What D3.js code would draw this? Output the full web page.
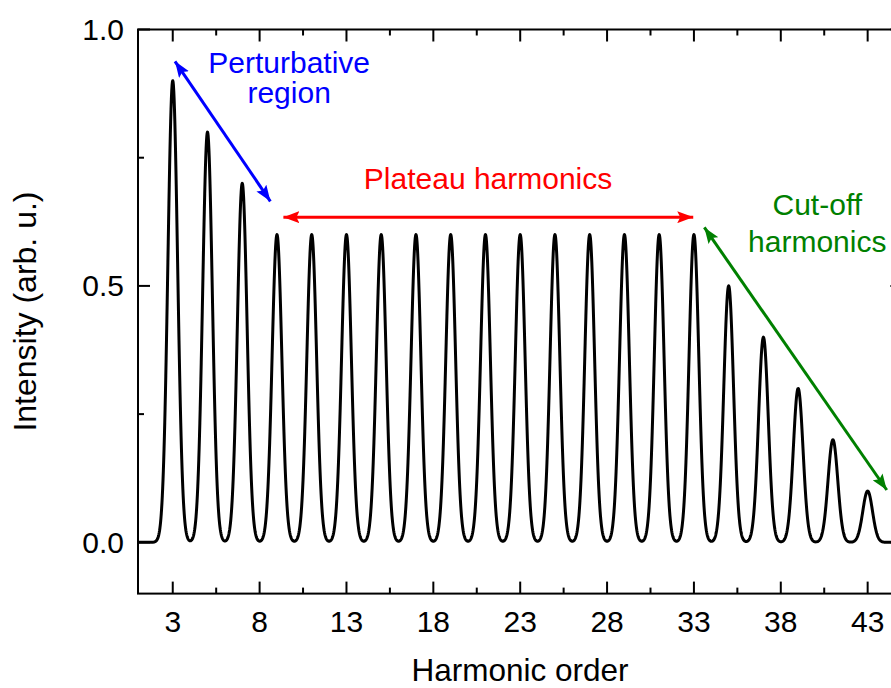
<!DOCTYPE html>
<html>
<head>
<meta charset="utf-8">
<script src="https://cdn.jsdelivr.net/npm/d3@7"></script>
<style>
  html, body { margin: 0; padding: 0; background: #fff; }
  svg { display: block; font-family: "Liberation Sans", Arial, sans-serif; }
</style>
</head>
<body>
<div id="chart"></div>
<script>
// ---- data ----
const harmonics   = [3,5,7,9,11,13,15,17,19,21,23,25,27,29,31,33,35,37,39,41,43];
const intensities = [0.9,0.8,0.7,0.6,0.6,0.6,0.6,0.6,0.6,0.6,0.6,0.6,0.6,0.6,0.6,0.6,0.5,0.4,0.3,0.2,0.1];
const xMajorTicks = [3,8,13,18,23,28,33,38,43];
const xMinorTicks = [5.5,10.5,15.5,20.5,25.5,30.5,35.5,40.5];
const yMajorTicks = [0,0.5,1.0];
const yMinorTicks = [0.25,0.75];

// annotations (data units)
const annotations = [
  { color: '#0000ff', from: [3.13, 0.938], to: [8.62, 0.665],
    lines: ['Perturbative', 'region'], tx: 9.7, ty: [0.915, 0.857] },
  { color: '#ff0000', from: [9.37, 0.634], to: [32.96, 0.634],
    lines: ['Plateau harmonics'], tx: 21.15, ty: [0.689] },
  { color: '#008000', from: [33.6, 0.614], to: [44.1, 0.102],
    lines: ['Cut-off', 'harmonics'], tx: 40.1, ty: [0.639, 0.566] }
];

const W = 891, H = 688;
const margin = { top: 29.5, left: 138, bottom: 94.4 };
const innerW = (902.4 - margin.left);
const innerH = H - margin.top - margin.bottom;

const svg = d3.select('#chart').append('svg')
  .attr('width', W).attr('height', H);

const x = d3.scaleLinear().domain([1, 45]).range([margin.left, margin.left + innerW]);
const y = d3.scaleLinear().domain([-0.1, 1.0]).range([margin.top + innerH, margin.top]);

// ---- spectrum line: gaussian profile around each harmonic peak ----
const sigma = 0.28;
const xs = d3.range(1, 45.001, 0.02);
const curve = xs.map(v => {
  let s = 0;
  harmonics.forEach((h, i) => {
    const d = v - h;
    if (Math.abs(d) < 2) s += intensities[i] * Math.exp(-d * d / (2 * sigma * sigma));
  });
  return [v, s];
});

const line = d3.line().x(d => x(d[0])).y(d => y(d[1]));

svg.append('path')
  .datum(curve)
  .attr('fill', 'none')
  .attr('stroke', '#000')
  .attr('stroke-width', 3)
  .attr('stroke-linejoin', 'round')
  .attr('d', line);

// ---- frame & ticks ----
const x0 = x.range()[0], x1 = x.range()[1];
const yb = y.range()[0], yt = y.range()[1];

svg.append('rect')
  .attr('x', x0).attr('y', yt)
  .attr('width', x1 - x0).attr('height', yb - yt)
  .attr('fill', 'none').attr('stroke', '#000').attr('stroke-width', 2);

const tickG = svg.append('g').attr('stroke', '#000').attr('stroke-width', 2);
const addXTicks = (vals, len) => {
  vals.forEach(v => {
    tickG.append('line').attr('x1', x(v)).attr('x2', x(v)).attr('y1', yb).attr('y2', yb - len);
    tickG.append('line').attr('x1', x(v)).attr('x2', x(v)).attr('y1', yt).attr('y2', yt + len);
  });
};
const addYTicks = (vals, len) => {
  vals.forEach(v => {
    tickG.append('line').attr('x1', x0).attr('x2', x0 + len).attr('y1', y(v)).attr('y2', y(v));
    tickG.append('line').attr('x1', x1).attr('x2', x1 - len).attr('y1', y(v)).attr('y2', y(v));
  });
};
addXTicks(xMajorTicks, 12);
addXTicks(xMinorTicks, 6);
addYTicks(yMajorTicks, 12);
addYTicks(yMinorTicks, 6);

// tick labels
svg.append('g').selectAll('text')
  .data(xMajorTicks).join('text')
  .attr('x', d => x(d)).attr('y', 632)
  .attr('text-anchor', 'middle')
  .attr('font-size', 30)
  .text(d => d);

svg.append('g').selectAll('text')
  .data(yMajorTicks).join('text')
  .attr('x', 124).attr('y', d => y(d) + 10.5)
  .attr('text-anchor', 'end')
  .attr('font-size', 30)
  .text(d => d3.format('.1f')(d));

// axis titles
svg.append('text')
  .attr('x', 520).attr('y', 681)
  .attr('text-anchor', 'middle')
  .attr('font-size', 31.5)
  .text('Harmonic order');

svg.append('text')
  .attr('transform', `translate(36,${(yb + yt) / 2}) rotate(-90)`)
  .attr('text-anchor', 'middle')
  .attr('font-size', 32)
  .text('Intensity (arb. u.)');

// ---- annotations ----
const defs = svg.append('defs');
annotations.forEach((a, i) => {
  defs.append('marker')
    .attr('id', 'ah' + i)
    .attr('viewBox', '0 0 16 12')
    .attr('refX', 16).attr('refY', 6)
    .attr('markerWidth', 16).attr('markerHeight', 12)
    .attr('markerUnits', 'userSpaceOnUse')
    .attr('orient', 'auto-start-reverse')
    .append('path')
    .attr('d', 'M0,0 L16,6 L0,12 L3,6 Z')
    .attr('fill', a.color);

  svg.append('line')
    .attr('x1', x(a.from[0])).attr('y1', y(a.from[1]))
    .attr('x2', x(a.to[0])).attr('y2', y(a.to[1]))
    .attr('stroke', a.color)
    .attr('stroke-width', 3)
    .attr('marker-start', `url(#ah${i})`)
    .attr('marker-end', `url(#ah${i})`);

  a.lines.forEach((t, j) => {
    svg.append('text')
      .attr('x', x(a.tx)).attr('y', y(a.ty[j]))
      .attr('text-anchor', 'middle')
      .attr('font-size', 30)
      .attr('fill', a.color)
      .text(t);
  });
});
</script>
</body>
</html>
